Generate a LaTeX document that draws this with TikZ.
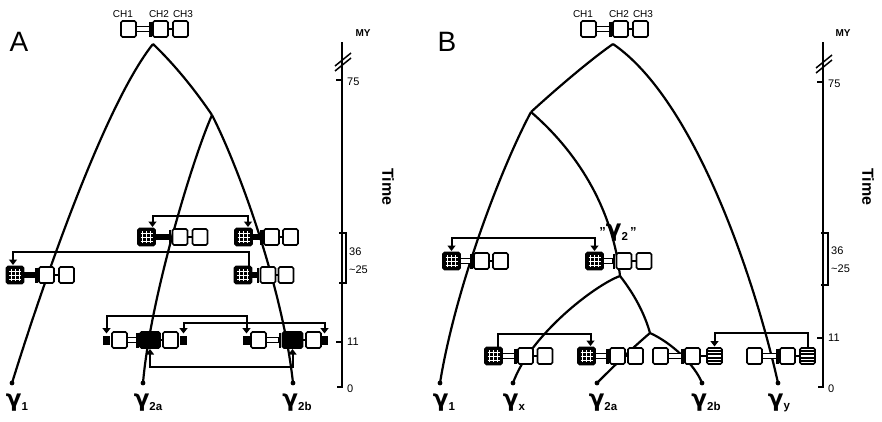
\documentclass[tikz,border=0pt]{standalone}
\usepackage{fontspec}
\setsansfont{Liberation Sans}
\newfontfamily\gfont{DejaVu Sans}
\usetikzlibrary{arrows.meta}
\newcommand\hinge[3][white]{%
  \draw[line width=1.2pt, fill=#1] ([yshift=2.5pt]#2.east) rectangle ([yshift=-2.5pt,xshift=-3.5pt]#3.west);
  \draw[line width=2.4pt] ([xshift=-2.5pt,yshift=7.5pt]#3.west) -- ([xshift=-2.5pt,yshift=-7.5pt]#3.west);}
\newcommand\lnk[2]{\draw[line width=1.6pt] (#1.east) -- (#2.west);}
\newcommand\glab[1]{{\gfont\bfseries\fontsize{23}{23}\selectfont γ}\raisebox{-3.5pt}{\sffamily\bfseries\fontsize{11.5}{11.5}\selectfont #1}}
\begin{document}
\begin{tikzpicture}[x=1pt,y=-1pt,
  tree/.style={line width=2.2pt},
  axis/.style={line width=1.5pt},
  arrtwo/.style={line width=2pt,{Triangle[length=5.5pt,width=8pt]}-{Triangle[length=5.5pt,width=8pt]}},
  arrone/.style={line width=2pt,-{Triangle[length=5.5pt,width=8pt]}},
  cbox/.style={draw, line width=1.6pt, fill=white, rounded corners=1.5pt, minimum width=15pt, minimum height=16pt, inner sep=0pt, outer sep=0pt},
  gbox/.style={cbox, fill=black, minimum width=17pt, minimum height=17pt,
    path picture={\foreach \d in {-4,0,4}{
      \draw[white,line width=0.8pt] ([xshift=\d pt,yshift=-6pt]path picture bounding box.center) -- ([xshift=\d pt,yshift=6pt]path picture bounding box.center);
      \draw[white,line width=0.8pt] ([yshift=\d pt,xshift=-6pt]path picture bounding box.center) -- ([yshift=\d pt,xshift=6pt]path picture bounding box.center);}}},
  sbox/.style={cbox,
    path picture={\foreach \d in {-5,-1.7,1.7,5}{
      \draw[black,line width=1.8pt] ([yshift=\d pt,xshift=-9pt]path picture bounding box.center) -- ([yshift=\d pt,xshift=9pt]path picture bounding box.center);}}},
  bbox/.style={cbox, fill=black, minimum width=20pt},
  blk/.style={fill=black, minimum width=7pt, minimum height=9pt, inner sep=0pt, outer sep=0pt},
  chlab/.style={font=\sffamily\fontsize{10}{10}\selectfont, inner sep=0pt},
  num/.style={font=\sffamily\fontsize{11}{11}\selectfont, anchor=west, inner sep=0pt},
  mylab/.style={font=\sffamily\bfseries\fontsize{10}{10}\selectfont, inner sep=0pt},
  timelab/.style={font=\sffamily\bfseries\fontsize{16}{16}\selectfont, rotate=-90, inner sep=0pt},
  panel/.style={font=\sffamily\fontsize{28}{28}\selectfont, inner sep=0pt},
  glabel/.style={inner sep=0pt}
]
\fill[white] (0,0) rectangle (882,421);
\useasboundingbox (0,0) rectangle (882,421);

% ---------------- Panel A: tree ----------------
\coordinate (apA) at (153,44);
\coordinate (brA) at (212,115);
\coordinate (e1A) at (12,383);
\coordinate (e2aA) at (143,383);
\coordinate (e2bA) at (293,383);
\draw[tree] (apA) .. controls (105,104) and (43,283) .. (e1A);
\draw[tree] (apA) .. controls (175,65) and (195,90) .. (brA);
\draw[tree] (brA) .. controls (240,170) and (283,290) .. (e2bA);
\draw[tree] (brA) .. controls (192,160) and (150,300) .. (e2aA);
\foreach \p in {e1A,e2aA,e2bA} \fill (\p) circle (2.4pt);

% top gene A
\node[cbox] (tA1) at (128.5,29) {};
\node[cbox] (tA2) at (160.5,29) {};
\node[cbox] (tA3) at (180.5,29) {};
\hinge{tA1}{tA2}
\lnk{tA2}{tA3}
\node[chlab] (lA1) at (123,14) {CH1};
\node[chlab] (lA2) at (159,14) {CH2};
\node[chlab] (lA3) at (183,14) {CH3};

% row 1 A
\node[gbox] (a11g) at (146.5,237) {};
\node[cbox] (a11b) at (180,237) {};
\node[cbox] (a11c) at (200,237) {};
\hinge[black]{a11g}{a11b}
\lnk{a11b}{a11c}
\node[gbox] (a12g) at (243.5,237) {};
\node[cbox] (a12b) at (271.5,237) {};
\node[cbox] (a12c) at (290.5,237) {};
\hinge[black]{a12g}{a12b}
\lnk{a12b}{a12c}
\draw[arrtwo] ([xshift=6pt,yshift=1.5pt]a11g.north) -- ++(0,-11) -| ([xshift=4.5pt,yshift=1.5pt]a12g.north);

% row 2 A
\node[gbox] (a21g) at (15,275) {};
\node[cbox] (a21b) at (46.5,275) {};
\node[cbox] (a21c) at (66.5,275) {};
\hinge[black]{a21g}{a21b}
\lnk{a21b}{a21c}
\node[gbox] (a22g) at (243,275) {};
\node[cbox] (a22b) at (268,275) {};
\node[cbox] (a22c) at (286,275) {};
\hinge[black]{a22g}{a22b}
\lnk{a22b}{a22c}
\draw[arrone] ([xshift=6pt]a22g.north) -- ++(0,-14.5) -| ([xshift=-2pt,yshift=1.5pt]a21g.north);

% row 3 A
\node[blk] (a31l) at (106.5,340) {};
\node[cbox] (a31a) at (119.5,340) {};
\node[bbox] (a31b) at (150,340) {};
\node[cbox] (a31c) at (170.5,340) {};
\node[blk] (a31r) at (183.5,340) {};
\hinge{a31a}{a31b}
\lnk{a31b}{a31c}
\node[blk] (a32l) at (246.5,340) {};
\node[cbox] (a32a) at (258.5,340) {};
\node[bbox] (a32b) at (292.5,340) {};
\node[cbox] (a32c) at (313.5,340) {};
\node[blk] (a32r) at (324.5,340) {};
\hinge{a32a}{a32b}
\lnk{a32b}{a32c}
\draw[arrtwo] ([yshift=2pt]a31l.north) -- ++(0,-17.5) -| ([yshift=2pt]a32l.north);
\draw[arrtwo] ([yshift=2pt]a31r.north) -- ++(0,-10.5) -| ([yshift=2pt]a32r.north);
\draw[arrtwo] ([yshift=-1pt]a31b.south) -- ++(0,18) -| ([yshift=-1pt]a32b.south);

% labels A
\node[panel] (pA) at (19,42) {A};
\node[glabel] (gA1) at (17,403) {\glab{1}};
\node[glabel] (gA2a) at (148,403) {\glab{2a}};
\node[glabel] (gA2b) at (297,403) {\glab{2b}};

% axis A
\coordinate (axAt) at (342,42);
\coordinate (axAb) at (342,387);
\draw[axis] (axAt) -- (axAb) -- ++(-5,0);
\draw[axis] (336,80) -- (342,80);
\draw[axis] (336,342) -- (342,342);
\draw[axis] (335,66) -- (351,53);
\draw[axis] (335,71) -- (351,58);
\draw[axis] (339,233) -- (346,233) -- (346,283) -- (339,283);
\node[mylab] (myA) at (363,33) {MY};
\node[num] (n75A) at (347,82) {75};
\node[num] (n36A) at (349,252) {36};
\node[num] (n25A) at (349,270) {\textasciitilde25};
\node[num] (n11A) at (347,342) {11};
\node[num] (n0A) at (347,389) {0};
\node[timelab] (tmA) at (388,187) {Time};

% ---------------- Panel B: tree ----------------
\coordinate (apB) at (613,44);
\coordinate (brB) at (531,112);
\coordinate (e1B) at (440,383);
\coordinate (exB) at (513,383);
\coordinate (e2aB) at (597,383);
\coordinate (e2bB) at (702,383);
\coordinate (eyB) at (778,383);
\coordinate (fkB) at (620,276);
\coordinate (br2B) at (650,333);
\draw[tree] (apB) .. controls (590,60) and (555,90) .. (brB);
\draw[tree] (brB) .. controls (500,170) and (455,290) .. (e1B);
\draw[tree] (brB) .. controls (575,150) and (612,205) .. (fkB);
\draw[tree] (fkB) .. controls (595,285) and (530,335) .. (exB);
\draw[tree] (fkB) .. controls (635,295) and (645,315) .. (br2B);
\draw[tree] (br2B) .. controls (630,350) and (610,370) .. (e2aB);
\draw[tree] (br2B) .. controls (672,343) and (695,365) .. (e2bB);
\draw[tree] (apB) .. controls (695,100) and (755,280) .. (eyB);
\foreach \p in {e1B,exB,e2aB,e2bB,eyB} \fill (\p) circle (2.4pt);

% top gene B
\node[cbox] (tB1) at (588.5,29) {};
\node[cbox] (tB2) at (620.5,29) {};
\node[cbox] (tB3) at (640.5,29) {};
\hinge{tB1}{tB2}
\lnk{tB2}{tB3}
\node[chlab] (lB1) at (583,14) {CH1};
\node[chlab] (lB2) at (619,14) {CH2};
\node[chlab] (lB3) at (643,14) {CH3};

% row 1 B
\node[gbox] (b11g) at (451.5,261) {};
\node[cbox] (b11b) at (481.5,261) {};
\node[cbox] (b11c) at (500.5,261) {};
\hinge{b11g}{b11b}
\lnk{b11b}{b11c}
\node[gbox] (b12g) at (594.5,261) {};
\node[cbox] (b12b) at (624,261) {};
\node[cbox] (b12c) at (644,261) {};
\hinge{b12g}{b12b}
\lnk{b12b}{b12c}
\draw[arrtwo] ([yshift=1.5pt]b11g.north) -- ++(0,-13) -| ([yshift=1.5pt]b12g.north);
\node[glabel] (qg2) at (618,233) {\sffamily\bfseries\fontsize{13}{13}\selectfont"\glab{2}\,"};

% row 2 B
\node[gbox] (b21g) at (493.5,356) {};
\node[cbox] (b21b) at (525.5,356) {};
\node[cbox] (b21c) at (545,356) {};
\hinge{b21g}{b21b}
\lnk{b21b}{b21c}
\node[gbox] (b22g) at (586.5,356) {};
\node[cbox] (b22b) at (617.5,356) {};
\node[cbox] (b22c) at (635.5,356) {};
\hinge{b22g}{b22b}
\lnk{b22b}{b22c}
\node[cbox] (b23a) at (660.5,356) {};
\node[cbox] (b23b) at (692.5,356) {};
\node[sbox] (b23c) at (714.5,356) {};
\hinge{b23a}{b23b}
\lnk{b23b}{b23c}
\node[cbox] (b24a) at (754.5,356) {};
\node[cbox] (b24b) at (787.5,356) {};
\node[sbox] (b24c) at (807.5,356) {};
\hinge{b24a}{b24b}
\lnk{b24b}{b24c}
\draw[arrone] ([xshift=4pt]b21g.north) -- ++(0,-14) -| ([xshift=4pt,yshift=1.5pt]b22g.north);
\draw[arrone] (b24c.north) -- ++(0,-15) -| ([yshift=1.5pt]b23c.north);

% labels B
\node[panel] (pB) at (447,42) {B};
\node[glabel] (gB1) at (444,403) {\glab{1}};
\node[glabel] (gBx) at (514,403) {\glab{x}};
\node[glabel] (gB2a) at (603,403) {\glab{2a}};
\node[glabel] (gB2b) at (706,403) {\glab{2b}};
\node[glabel] (gBy) at (779,403) {\glab{y}};

% axis B
\coordinate (axBt) at (823,42);
\coordinate (axBb) at (823,387);
\draw[axis] (axBt) -- (axBb) -- ++(-5,0);
\draw[axis] (817,82) -- (823,82);
\draw[axis] (817,338) -- (823,338);
\draw[axis] (816,68) -- (832,55);
\draw[axis] (816,73) -- (832,60);
\draw[axis] (821,233) -- (828,233) -- (828,285) -- (821,285);
\node[mylab] (myB) at (843,33) {MY};
\node[num] (n75B) at (828,84) {75};
\node[num] (n36B) at (831,251) {36};
\node[num] (n25B) at (831,269) {\textasciitilde25};
\node[num] (n11B) at (828,338) {11};
\node[num] (n0B) at (828,389) {0};
\node[timelab] (tmB) at (868,187) {Time};
\end{tikzpicture}
\end{document}
